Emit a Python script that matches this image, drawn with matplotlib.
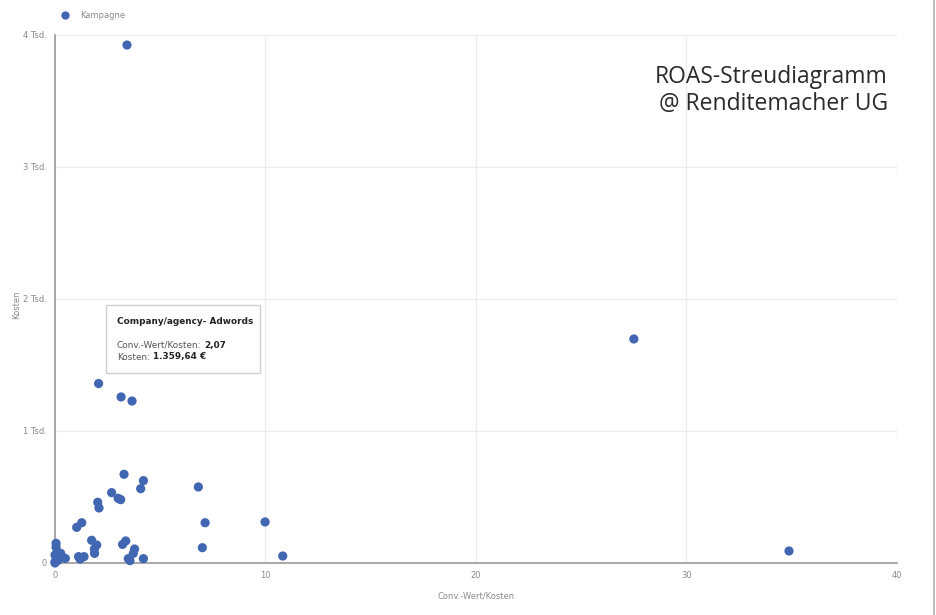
import matplotlib
matplotlib.use("Agg")
import matplotlib.pyplot as plt
from matplotlib.patches import Rectangle
from matplotlib.lines import Line2D

# Campaign data: ROAS (conversion value / cost) vs. cost in EUR
roas = [3.42, 27.5, 2.07, 3.14, 3.66, 34.87, 9.98, 10.82,
        3.28, 4.20, 4.07, 2.69, 3.00, 3.12, 2.03, 2.09,
        6.81, 7.13, 7.00, 1.27, 1.03, 1.74, 1.98, 1.88, 1.87,
        3.36, 3.21, 3.78, 3.72, 3.48, 3.56, 4.20,
        1.12, 1.38, 1.19, 0.49, 0.27, 0.05, 0.05, 0.0, 0.08,
        0.0, 0.15, 0.0]
kosten = [3924, 1697, 1359.64, 1258, 1227, 91, 311, 53,
          672, 624, 563, 533, 490, 480, 460, 417,
          576, 305, 116, 305, 270, 172, 136, 73, 106,
          167, 141, 106, 73, 33, 18, 33,
          48, 48, 30, 35, 73, 149, 119, 61, 35,
          10, 20, 0]

x_ticks = [0, 10, 20, 30, 40]
y_ticks = [0, 1000, 2000, 3000, 4000]
y_tick_labels = ["0", "1 Tsd.", "2 Tsd.", "3 Tsd.", "4 Tsd."]

W, H = 937, 615
fig = plt.figure(figsize=(W / 100, H / 100), dpi=100)
fig.patch.set_facecolor("white")
ax = fig.add_axes([55 / W, 1 - 563 / H, (897 - 55) / W, (563 - 35) / H])

blue = "#4267b2"
ax.scatter(roas, kosten, s=44, color=blue, edgecolors="none", zorder=3, clip_on=False)

ax.set_xlim(0, 40)
ax.set_ylim(0, 4000)
ax.set_xticks(x_ticks)
ax.set_xticklabels([str(t) for t in x_ticks])
ax.set_yticks(y_ticks)
ax.set_yticklabels(y_tick_labels)
ax.tick_params(axis="both", length=0, labelsize=6, labelcolor="#8a8a8a", pad=6)
ax.grid(True, color="#ececec", linewidth=0.9, zorder=0)
for side in ("top", "right"):
    ax.spines[side].set_visible(False)
for side in ("left", "bottom"):
    ax.spines[side].set_color("#9a9a9a")
    ax.spines[side].set_linewidth(1.2)

ax.set_xlabel("Conv.-Wert/Kosten", fontsize=6, color="#8a8a8a", labelpad=8)
fig.text(17 / W, 1 - 305 / H, "Kosten", fontsize=6, color="#8a8a8a",
         rotation=90, ha="center", va="center")

# Legend
fig.add_artist(Line2D([65 / W], [1 - 15 / H], marker="o", markersize=6,
                      color=blue, markeredgewidth=0, linestyle="none",
                      transform=fig.transFigure))
fig.text(80 / W, 1 - 16 / H, "Kampagne", fontsize=6, color="#8a8a8a", va="center")

# Tooltip for the highlighted campaign
fig.add_artist(Rectangle((106 / W, 1 - 373 / H), (260 - 106) / W, (373 - 305) / H,
                         transform=fig.transFigure, facecolor="white",
                         edgecolor="#d0d0d0", linewidth=1.0, zorder=5))
fig.text(117 / W, 1 - 322 / H, "Company/agency- Adwords", fontsize=6.4,
         fontweight="bold", color="#222222", va="center", zorder=6)

renderer = fig.canvas.get_renderer()


def label_value(y_px, label, value):
    t = fig.text(117 / W, 1 - y_px / H, label, fontsize=6.4, color="#555555",
                 va="center", zorder=6)
    bb = t.get_window_extent(renderer=renderer)
    fig.text(bb.x1 / W + 3 / W, 1 - y_px / H, value, fontsize=6.4,
             fontweight="bold", color="#222222", va="center", zorder=6)


label_value(345, "Conv.-Wert/Kosten:", "2,07")
label_value(357, "Kosten:", "1.359,64 €")

# Watermark
fig.text(888 / W, 1 - 77 / H, "ROAS-Streudiagramm", fontsize=16.5,
         family="Open Sans", color="#2a2a2a", ha="right", va="center")
fig.text(888 / W, 1 - 104 / H, "@ Renditemacher UG", fontsize=16.5,
         family="Open Sans", color="#2a2a2a", ha="right", va="center")

# Right border of the panel
fig.add_artist(Line2D([934 / W, 934 / W], [0, 1], color="#b0b0b0",
                      linewidth=1.2, transform=fig.transFigure))

fig.savefig("out.png", dpi=100, facecolor="white")
